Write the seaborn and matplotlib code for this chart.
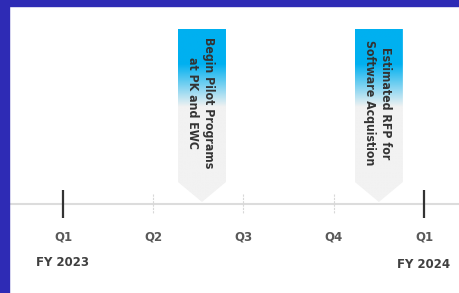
import numpy as np
import pandas as pd
import matplotlib
matplotlib.use("Agg")
import matplotlib.pyplot as plt
import seaborn as sns
from matplotlib.patches import Polygon, Rectangle

# ---- data ----
quarter_pos = [0, 1, 2, 3, 4]
quarter_labels = ["Q1", "Q2", "Q3", "Q4", "Q1"]
year_pos = [0, 4]
year_labels = ["FY 2023", "FY 2024"]
event_pos = [1.54, 3.5]
event_labels = ["Begin Pilot Programs\nat PK and EWC", "Estimated RFP for\nSoftware Acquistion"]

sns.set_theme(style="white")
plt.rcParams['font.family'] = ['DejaVu Sans']

W, H = 459, 293
fig = plt.figure(figsize=(W / 100, H / 100), dpi=100)
ax = fig.add_axes([0, 0, 1, 1])
ppu = 90.25
x0 = 63
ax.set_xlim(-x0 / ppu, (W - x0) / ppu)
ax.set_ylim(H, 0)
ax.axis("off")

# border
fig.patches.append(Rectangle((0, 0), 9 / W, 1, transform=fig.transFigure, color="#2E2BB5", zorder=10))
fig.patches.append(Rectangle((0, 1 - 6 / H), 1, 6 / H, transform=fig.transFigure, color="#2E2BB5", zorder=10))

# axis line
axis_y = 204
ax.axhline(axis_y, color="#DCDCDC", lw=1.5, zorder=1)

# minor quarter ticks
for q in quarter_pos:
    if q in year_pos:
        continue
    ax.plot([q, q], [194, 213], color="#D8D8D8", lw=0.8, ls=(0, (2, 1)), zorder=1)

# major ticks via seaborn
df_major = pd.DataFrame({"x": year_pos, "y": [axis_y] * len(year_pos)})
sns.scatterplot(data=df_major, x="x", y="y", marker="|", s=380, color="#333333",
                linewidth=1.6, ax=ax, zorder=3, legend=False)
ax.set_xlabel("")
ax.set_ylabel("")

# quarter labels
for q, lab in zip(quarter_pos, quarter_labels):
    ax.text(q, 237, lab, ha="center", va="center", fontsize=8.5, fontweight="bold", color="#595959")
for (q, lab), yy in zip(zip(year_pos, year_labels), [263, 265]):
    ax.text(q, yy, lab, ha="center", va="center", fontsize=8.5, fontweight="bold", color="#404040")

# gradient callouts
grad_top = np.array(matplotlib.colors.to_rgb("#00B0F0"))
grad_bot = np.array(matplotlib.colors.to_rgb("#F2F2F2"))
n = 200
t = np.clip((np.linspace(0, 1, n) - 0.2) / 0.25, 0, 1)[:, None]
grad = grad_top * (1 - t) + grad_bot * t
img = np.repeat(grad[:, None, :], 2, axis=1)

half_w = 24 / ppu
top, rect_bot, tip = 29, 182, 202
for xp, lab in zip(event_pos, event_labels):
    poly = Polygon([[xp - half_w, top], [xp + half_w, top], [xp + half_w, rect_bot],
                    [xp, tip], [xp - half_w, rect_bot]], closed=True, facecolor="none",
                   edgecolor="none")
    ax.add_patch(poly)
    im = ax.imshow(img, extent=[xp - half_w, xp + half_w, tip, top], aspect="auto",
                   interpolation="bilinear", zorder=2)
    im.set_clip_path(poly)
    ax.text(xp - 1.5 / ppu, 103, lab, rotation=270, ha="center", va="center",
            rotation_mode="default", multialignment="center",
            fontsize=8.8, fontweight="bold", fontstretch="condensed", color="#333333",
            linespacing=1.25, zorder=4)

ax.set_xlim(-x0 / ppu, (W - x0) / ppu)
ax.set_ylim(H, 0)
fig.savefig("out.png", dpi=100)
